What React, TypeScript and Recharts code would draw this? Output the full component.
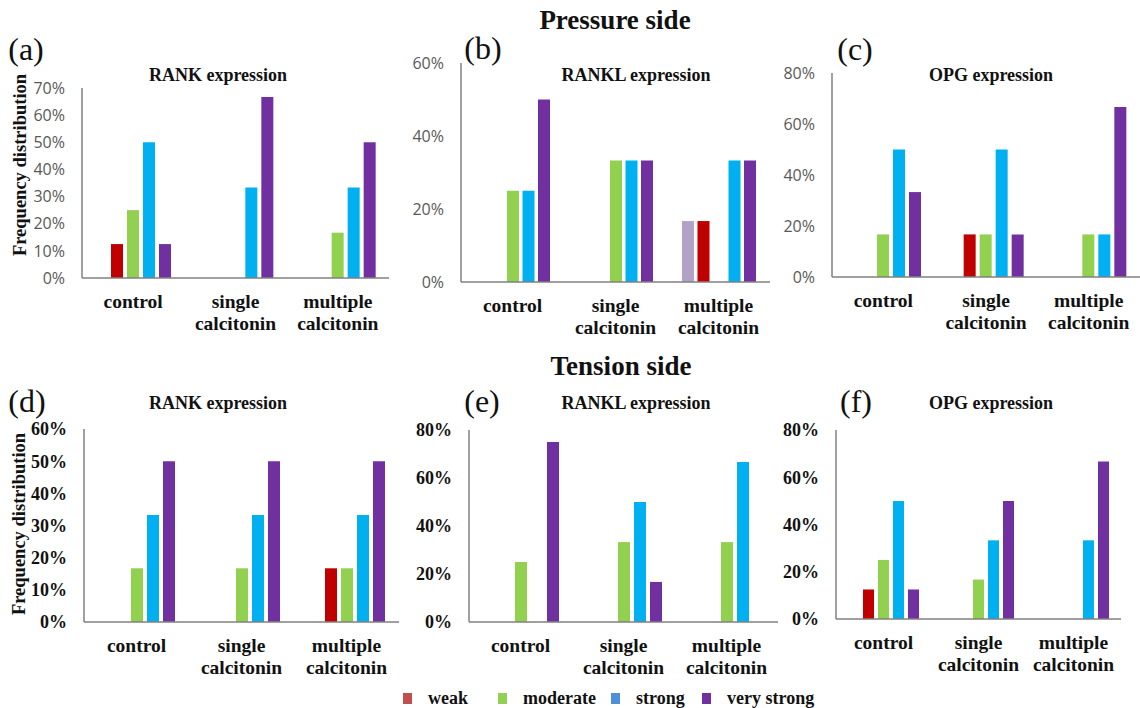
import { BarChart, Bar, XAxis, YAxis } from "recharts"

// series order inside each group (first one is an unlabelled lavender series)
const seriesKeys = ["other", "weak", "moderate", "strong", "veryStrong"]
const seriesColors = ["#B3A2C7", "#C00000", "#92D050", "#00B0F0", "#7030A0"]

const categories = ["control", "single\ncalcitonin", "multiple\ncalcitonin"]

// values per category: [other, weak, moderate, strong, very strong] in %
const pressureRank = [[0, 12.5, 25, 50, 12.5], [0, 0, 0, 33.3, 66.7], [0, 0, 16.7, 33.3, 50]]
const pressureRankl = [[0, 0, 25, 25, 50], [0, 0, 33.3, 33.3, 33.3], [16.7, 16.7, 0, 33.3, 33.3]]
const pressureOpg = [[0, 0, 16.7, 50, 33.3], [0, 16.7, 16.7, 50, 16.7], [0, 0, 16.7, 16.7, 66.7]]
const tensionRank = [[0, 0, 16.7, 33.3, 50], [0, 0, 16.7, 33.3, 50], [0, 16.7, 16.7, 33.3, 50]]
const tensionRankl = [[0, 0, 25, 0, 75], [0, 0, 33.3, 50, 16.7], [0, 0, 33.3, 66.7, 0]]
const tensionOpg = [[0, 12.5, 25, 50, 12.5], [0, 0, 16.7, 33.3, 50], [0, 0, 0, 33.3, 66.7]]

const ticks0to70 = [0, 10, 20, 30, 40, 50, 60, 70]
const ticks0to60by20 = [0, 20, 40, 60]
const ticks0to80 = [0, 20, 40, 60, 80]
const ticks0to60by10 = [0, 10, 20, 30, 40, 50, 60]

const legendItems = [
  { name: "weak", color: "#C0504D" },
  { name: "moderate", color: "#92D050" },
  { name: "strong", color: "#4F8FD8" },
  { name: "very strong", color: "#7030A0" },
]

const serif = "Liberation Serif, Times New Roman, serif"
const sans = "Open Sans, Liberation Sans, sans-serif"
const AW = 70
const XH = 60

function toRows(values: number[][]) {
  return categories.map((name, i) => {
    const row: Record<string, number | string> = { name }
    seriesKeys.forEach((k, j) => (row[k] = values[i][j]))
    return row
  })
}

function CatTick(props: any) {
  const { x, y, payload } = props
  const lines = String(payload.value).split("\n")
  return (
    <text x={x} y={y} textAnchor="middle" fill="#111"
      style={{ fontFamily: serif, fontWeight: 700, fontSize: 19.5 }}>
      {lines.map((l, i) => (
        <tspan key={i} x={x} dy={i === 0 ? 28 : 22}>{l}</tspan>
      ))}
    </text>
  )
}

interface PanelProps {
  values: number[][]
  ticks: number[]
  left: number
  right: number
  top: number
  bottom: number
  serifTicks: boolean
  barSize: number
  barGap: number
}

function Panel({ values, ticks, left, right, top, bottom, serifTicks, barSize, barGap }: PanelProps) {
  const width = AW + (right - left) + 2
  const height = 10 + (bottom - top) + XH
  const tickStyle = serifTicks
    ? { style: { fontFamily: serif, fontWeight: 700, fontSize: 18 }, fill: "#111" }
    : { style: { fontFamily: sans, fontSize: 16 }, fill: "#595959" }
  return (
    <div style={{ position: "absolute", left: left - AW, top: top - 10 }}>
      <BarChart width={width} height={height} data={toRows(values)} margin={{ top: 10, right: 2, left: 0, bottom: 0 }}
        barGap={barGap} barCategoryGap={0}>
        <XAxis dataKey="name" height={XH} tickLine={false} tickSize={0} interval={0}
          axisLine={{ stroke: "#808080", strokeWidth: 1.5 }} tick={(p: any) => <CatTick {...p} />} />
        <YAxis width={AW} domain={[0, ticks[ticks.length - 1]]} ticks={ticks} interval={0} tickLine={false}
          tickSize={6} tickMargin={11} tickFormatter={(v: number) => `${v}%`}
          axisLine={{ stroke: "#808080", strokeWidth: 1.5 }} tick={tickStyle} />
        {seriesKeys.map((k, i) => (
          <Bar key={k} dataKey={k} fill={seriesColors[i]} barSize={barSize} isAnimationActive={false} />
        ))}
      </BarChart>
    </div>
  )
}

function Txt({ x, y, children, size, bold = true, rotate = 0 }: any) {
  return (
    <div style={{
      position: "absolute", left: x, top: y, transform: `translate(-50%, -50%) rotate(${rotate}deg)`,
      fontFamily: serif, fontWeight: bold ? "bold" : "normal", fontSize: size, lineHeight: 1,
      whiteSpace: "nowrap", color: "#111",
    }}>{children}</div>
  )
}

export default function App() {
  return (
    <div style={{ position: "absolute", left: 0, top: 0, width: 1140, height: 708, background: "#fff", overflow: "hidden" }}>
      <Txt x={615} y={20} size={27}>Pressure side</Txt>
      <Txt x={621} y={366} size={27}>Tension side</Txt>

      <Txt x={26} y={49} size={32} bold={false}>(a)</Txt>
      <Txt x={483} y={48} size={32} bold={false}>(b)</Txt>
      <Txt x={855} y={49} size={32} bold={false}>(c)</Txt>
      <Txt x={27} y={401} size={32} bold={false}>(d)</Txt>
      <Txt x={482} y={401} size={32} bold={false}>(e)</Txt>
      <Txt x={856} y={401} size={32} bold={false}>(f)</Txt>

      <Txt x={218} y={75} size={18}>RANK expression</Txt>
      <Txt x={636} y={75} size={18}>RANKL expression</Txt>
      <Txt x={991} y={75} size={18}>OPG expression</Txt>
      <Txt x={218} y={403} size={18}>RANK expression</Txt>
      <Txt x={636} y={403} size={18}>RANKL expression</Txt>
      <Txt x={991} y={403} size={18}>OPG expression</Txt>

      <Txt x={20} y={165} size={18.5} rotate={-90}>Frequency distribution</Txt>
      <Txt x={19} y={524} size={18.5} rotate={-90}>Frequency distribution</Txt>

      <Panel values={pressureRank} ticks={ticks0to70} left={82} right={389} top={88} bottom={278} serifTicks={false} barSize={12} barGap={4} />
      <Panel values={pressureRankl} ticks={ticks0to60by20} left={461} right={770} top={63} bottom={282} serifTicks={false} barSize={12} barGap={3.5} />
      <Panel values={pressureOpg} ticks={ticks0to80} left={832} right={1140} top={73} bottom={277} serifTicks={false} barSize={12} barGap={4} />
      <Panel values={tensionRank} ticks={ticks0to60by10} left={84} right={399} top={429} bottom={622} serifTicks={true} barSize={12} barGap={4} />
      <Panel values={tensionRankl} ticks={ticks0to80} left={469} right={778} top={430} bottom={622} serifTicks={true} barSize={12} barGap={4} />
      <Panel values={tensionOpg} ticks={ticks0to80} left={836} right={1121} top={430} bottom={619} serifTicks={true} barSize={11} barGap={4} />

      {legendItems.map((it, i) => {
        const sx = [403, 498, 611, 702][i]
        return (
          <div key={it.name}>
            <div style={{ position: "absolute", left: sx, top: 693, width: 9, height: 11, background: it.color }} />
            <div style={{
              position: "absolute", left: sx + 25, top: 698, transform: "translateY(-50%)", fontFamily: serif,
              fontWeight: "bold", fontSize: 18, lineHeight: 1, whiteSpace: "nowrap", color: "#111",
            }}>{it.name}</div>
          </div>
        )
      })}
    </div>
  )
}
